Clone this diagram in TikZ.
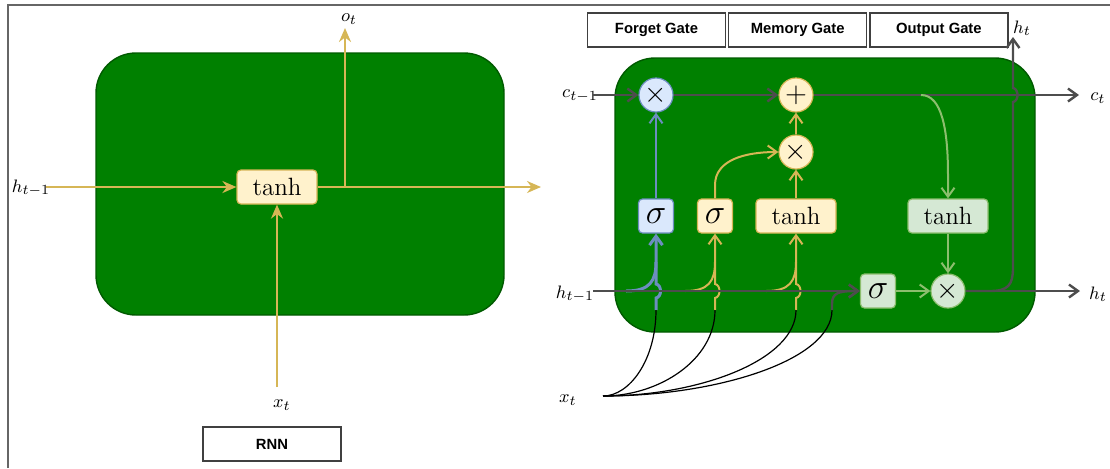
\documentclass[tikz,border=0pt]{standalone}
\usepackage{fontspec}
\newfontfamily\gatefont{Liberation Sans}
\usetikzlibrary{arrows.meta,positioning}
\definecolor{cellgreen}{HTML}{008000}
\definecolor{celledge}{HTML}{005A00}
\definecolor{yfill}{HTML}{FFF2CC}
\definecolor{yedge}{HTML}{D6B656}
\definecolor{bfill}{HTML}{DAE8FC}
\definecolor{bedge}{HTML}{6C8EBF}
\definecolor{gfill}{HTML}{D5E8D4}
\definecolor{gedge}{HTML}{8CBE6E}
\definecolor{flow}{HTML}{4D4D4D}
\definecolor{framegray}{HTML}{666666}

\begin{document}
\begin{tikzpicture}[x=0.5pt, y=-0.5pt,
    cell/.style={draw=celledge, fill=cellgreen, line width=0.7pt, rounded corners=20pt},
    op/.style={draw, rounded corners=2pt, minimum height=17pt, inner sep=0pt, line width=0.6pt},
    sig/.style={op, minimum width=17.5pt, font=\fontsize{17}{17}\selectfont},
    act/.style={op, minimum width=40pt, font=\fontsize{12.5}{12.5}\selectfont},
    pw/.style={circle, draw, minimum size=17pt, inner sep=0pt, line width=0.6pt,
        font=\fontsize{15}{15}\selectfont},
    yel/.style={fill=yfill, draw=yedge},
    blu/.style={fill=bfill, draw=bedge},
    grn/.style={fill=gfill, draw=gedge},
    lbl/.style={inner sep=0pt, font=\fontsize{9.5}{9.5}\selectfont},
    caption/.style={draw=black!75, line width=0.6pt, minimum width=69pt, minimum height=17pt,
        inner sep=0pt, font=\gatefont\bfseries\fontsize{7.4}{8}\selectfont},
    rnnflow/.style={draw=yedge, line width=1pt, -{Stealth[length=7pt, width=6pt]}},
    tip/.style={-{Straight Barb[length=4.5pt, width=6.5pt]}},
    flowline/.style={draw=flow, line width=1.2pt},
    xline/.style={draw=black, line width=0.6pt}
]
\useasboundingbox (0,0) rectangle (1110,468);
\draw[framegray, line width=0.75pt] (8,468) -- (8,5) -- (1110,5);

% RNN cell
\draw[cell] (96,53) rectangle (504,315);
\node (rnnTanh) [act, yel] at (277,187) {tanh};
\coordinate (rnnIn) at (46,187);
\coordinate (rnnOut) at (541,187);
\coordinate (rnnSplit) at (345,187);
\coordinate (rnnTop) at (345,28);
\coordinate (rnnXin) at (277,387);
\draw[rnnflow] (rnnIn) -- (rnnTanh);
\draw[rnnflow] (rnnTanh) -- (rnnOut);
\draw[rnnflow] (rnnSplit) -- (rnnTop);
\draw[rnnflow] (rnnXin) -- (rnnTanh);
\node (rnnH) [lbl] at (31,188) {$h_{t-1}$};
\node (rnnO) [lbl] at (349,19) {$o_t$};
\node (rnnX) [lbl] at (282,405) {$x_t$};
\node (RNN) [caption] at (272,444) {RNN};

% LSTM cell
\draw[cell] (615,58) rectangle (1035,332);
\node (ForgetGate) [caption] at (656.5,30) {Forget Gate};
\node (MemoryGate) [caption, right=1pt of ForgetGate] {Memory Gate};
\node (OutputGate) [caption, right=1pt of MemoryGate] {Output Gate};

\node (ForgetX) [pw, blu] at (656,95) {$\times$};
\node (MemAdd) [pw, yel] at (796,95) {$+$};
\node (MemX) [pw, yel] at (796,152) {$\times$};
\node (ForgetSig) [sig, blu] at (656,216) {$\sigma$};
\node (InputSig) [sig, yel] at (715,216) {$\sigma$};
\node (CandTanh) [act, yel] at (796,216) {tanh};
\node (OutTanh) [act, grn] at (948,216) {tanh};
\node (OutSig) [sig, grn] at (878,291) {$\sigma$};
\node (OutX) [pw, grn] at (948,291) {$\times$};

\node (cPrev) [lbl] at (580,96) {$c_{t-1}$};
\node (cNext) [lbl] at (1098,98) {$c_t$};
\node (hPrev) [lbl] at (575,294) {$h_{t-1}$};
\node (hNext) [lbl] at (1098,294) {$h_t$};
\node (hUp) [lbl] at (1022,28) {$h_t$};
\node (xIn) [lbl] at (568,400) {$x_t$};

\coordinate (cIn) at (593,95);
\coordinate (cOut) at (1079,95);
\coordinate (hIn) at (593,291);
\coordinate (hOut) at (1080,291);
\coordinate (hTop) at (1013,37);
\coordinate (xtOut) at (603,396);

% gate inputs from h and x
\foreach \g/\x/\c/\w in {ForgetSig/656/bedge/1.5pt, InputSig/715/yedge/1pt, CandTanh/796/yedge/1pt} {
  \draw[\c, line width=\w] (\x-30,291) .. controls (\x-6,291) and (\x,281) .. (\x,262);
  \draw[\c, line width=\w, tip] (\x,310) -- (\x,298) .. controls (\x+6,297) and (\x+6,285) .. (\x,284) -- (\g);
}
\foreach \x [evaluate=\x as \xm using {0.5*(\x+603)}] in {656,715,796,832}
  \draw[xline] (xtOut) .. controls (\xm,396) and (\x,360) .. (\x,310);
\draw[flowline, tip] (832,310) -- (832,304) .. controls (832,293) and (838,291) .. (OutSig);

% cell state
\draw[flowline, tip] (cIn) -- (ForgetX);
\draw[flowline, tip] (ForgetX) -- (MemAdd);
\draw[flowline, tip] (MemAdd) -- (cOut);
\draw[bedge, line width=1pt, tip] (ForgetSig) -- (ForgetX);
\draw[yedge, line width=1pt, tip] (InputSig) -- (715,185) .. controls (715,160) and (745,152) .. (MemX);
\draw[yedge, line width=1pt, tip] (CandTanh) -- (MemX);
\draw[yedge, line width=1pt, tip] (MemX) -- (MemAdd);
\draw[gedge, line width=1pt, tip] (921,95) .. controls (942,95) and (948,130) .. (948,175) -- (OutTanh);

% hidden state
\draw[flowline, tip] (hIn) -- (OutSig);
\draw[gedge, line width=1pt, tip] (OutSig) -- (OutX);
\draw[gedge, line width=1pt, tip] (OutTanh) -- (OutX);
\draw[flowline, tip] (OutX) -- (hOut);
\draw[flowline, tip] (OutX.east) -- (990,291) .. controls (1008,291) and (1013,285) .. (1013,268)
  -- (1013,102) .. controls (1019,101) and (1019,89) .. (1013,88) -- (hTop);
\end{tikzpicture}
\end{document}
